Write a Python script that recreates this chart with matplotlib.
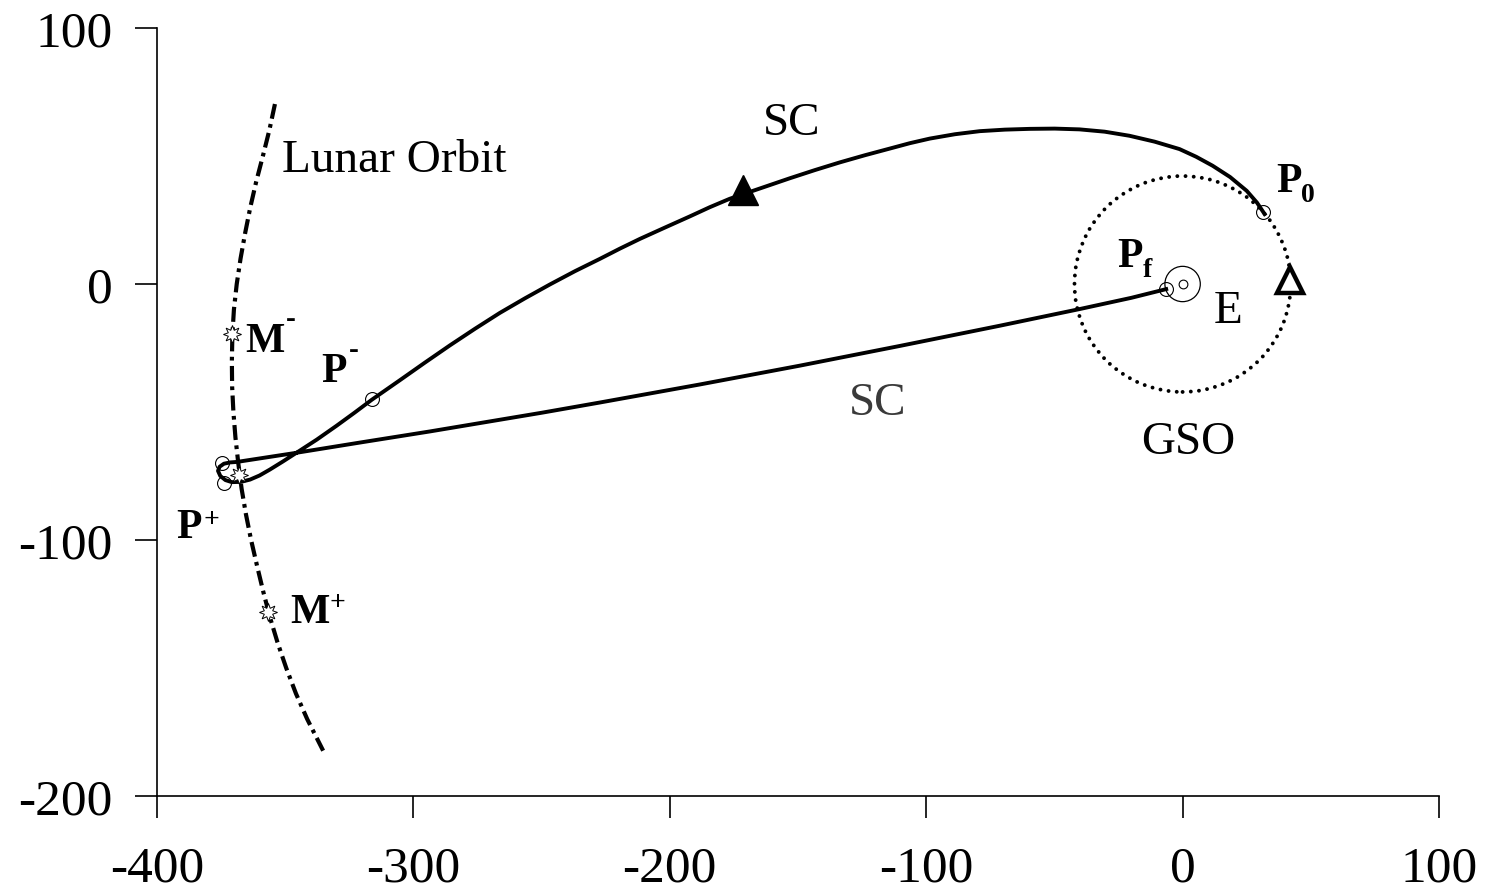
import matplotlib
matplotlib.use("Agg")
from matplotlib import pyplot as plt
from matplotlib.patches import Circle

plt.rcParams['font.family'] = ['Liberation Serif', 'DejaVu Serif']
plt.rcParams['axes.unicode_minus'] = False

# Spacecraft path, P0 -> lunar swing-by loop -> Pf (units: 1000 km)
sc_x = [32.0, 29.0, 25.0, 18.5, 11.7, 5.3, -1.2, -10.9, -20.7, -30.4,
        -40.2, -49.9, -59.6, -69.3, -79.1, -88.8, -98.6, -106.4, -114.2, -123.9,
        -133.7, -143.4, -153.2, -164.9, -176.6, -184.4, -192.2, -202.0, -211.7, -219.5,
        -227.3, -237.0, -246.8, -256.5, -266.3, -276.0, -285.8, -295.5, -305.3, -316.2,
        -323.0, -330.0, -337.7, -345.4, -351.0, -356.0, -360.0, -363.7, -367.3, -370.8,
        -373.3, -375.3, -376.2, -375.6, -373.9, -371.5, -368.8,
        -345.4, -320.0, -293.6, -250.0, -227.3, -188.3, -149.3, -110.3, -71.3, -40.2,
        -20.0, -6.4]
sc_y = [27.3, 31.8, 36.4, 41.8, 46.2, 49.7, 52.7, 55.6, 57.9, 59.5,
        60.4, 60.7, 60.6, 60.3, 59.7, 58.5, 56.8, 55.0, 52.9, 50.3,
        47.5, 44.5, 41.3, 37.3, 33.3, 30.0, 26.4, 22.0, 17.6, 13.8,
        9.8, 5.0, -0.2, -5.6, -11.3, -17.5, -24.0, -30.7, -37.6, -45.2,
        -50.3, -55.4, -60.8, -65.8, -69.4, -72.5, -74.8, -76.4, -77.3, -77.4,
        -76.6, -75.0, -73.0, -71.4, -70.2, -69.7, -69.5,
        -65.9, -61.8, -57.6, -50.3, -46.3, -39.25, -31.9, -24.2, -16.3, -9.8,
        -5.4, -2.0]

# Lunar orbit arc
moon_x = [-354.0, -356.2, -358.7, -361.3, -363.6, -365.6, -367.4, -368.9, -370.0,
          -370.6, -370.8, -370.7, -370.2, -369.4, -368.3, -367.0, -365.3, -363.3,
          -361.0, -358.6, -356.0, -353.0, -349.6, -345.8, -341.4, -335.2]
moon_y = [70.3, 60.0, 50.0, 40.0, 30.0, 20.0, 10.0, 0.0, -10.0,
          -20.0, -30.0, -40.0, -50.0, -60.0, -70.0, -80.0, -90.0, -100.0,
          -110.0, -120.0, -130.0, -140.0, -150.0, -160.0, -170.0, -182.3]

# Marked points
circ_x = [31.3, -6.4, -316.2, -374.7, -373.9]     # P0, Pf, P-, P+ loop
circ_y = [28.0, -2.0, -44.8, -69.9, -77.7]
star_x = [-370.6, -368.2, -356.6]                # M-, swing-by, M+
star_y = [-19.5, -74.8, -128.3]
tri_filled = (-171.3, 36.6)
tri_open = (42.0, 1.5)

GSO_R = 42.164
EARTH_R = 6.9

fig = plt.figure(figsize=(14.86, 8.95), dpi=100)
ax = fig.add_axes([0.10565, 0.1095, 0.86272, 0.8581])

ax.plot(moon_x, moon_y, color='black', lw=3.0, linestyle=(0, (3.6, 1.3, 0.9, 1.3)))
ax.add_patch(Circle((0, 0), GSO_R, fill=False, lw=2.8, edgecolor='black',
                    linestyle=(0, (0.01, 2.1)), capstyle='round'))
ax.add_patch(Circle((0, 0), EARTH_R, fill=False, lw=0.9, edgecolor='black'))
ax.plot([0], [0], 'o', ms=6.3, mfc='none', mec='black', mew=0.8)

ax.plot(sc_x, sc_y, color='black', lw=2.8, solid_joinstyle='round')

ax.plot(circ_x, circ_y, 'o', ms=10, mfc='none', mec='black', mew=0.8)
ax.plot(star_x, star_y, marker=(8, 1, 0), ls='none', ms=13, mfc='white', mec='black', mew=0.7)
ax.plot(*tri_filled, '^', ms=21, color='black')
ax.plot(*tri_open, '^', ms=19, mfc='white', mec='black', mew=3.2)

# labels
ax.text(-351.4, 44.3, 'Lunar Orbit', fontsize=34, ha='left', va='baseline')
ax.text(-152.6, 58.6, 'SC', fontsize=34, ha='center', va='baseline')
ax.text(-118.9, -50.8, 'SC', fontsize=34, ha='center', va='baseline', color='#3a3a3a')
ax.text(2.1, -66.0, 'GSO', fontsize=34, ha='center', va='baseline')
ax.text(17.9, -14.8, 'E', fontsize=34, ha='center', va='baseline')

bold = dict(fontweight='bold', va='baseline', ha='left')
ax.text(36.6, 36.4, 'P', fontsize=30, **bold)
ax.text(46.3, 32.5, '0', fontsize=20, **bold)
ax.text(-25.3, 7.1, 'P', fontsize=30, **bold)
ax.text(-15.6, 3.2, 'f', fontsize=20, **bold)
ax.text(-365.7, -26.0, 'M', fontsize=30, **bold)
ax.text(-349.8, -16.6, '-', fontsize=21, **bold)
ax.text(-336.0, -37.8, 'P', fontsize=30, **bold)
ax.text(-325.3, -28.6, '-', fontsize=21, **bold)
ax.text(-392.3, -98.9, 'P', fontsize=30, **bold)
ax.text(-381.8, -94.6, '+', fontsize=20, **bold)
ax.text(-348.1, -132.1, 'M', fontsize=30, **bold)
ax.text(-332.6, -127.0, '+', fontsize=20, **bold)

ax.set_xlim(-400, 100)
ax.set_ylim(-200, 100)
ax.set_xticks([-400, -300, -200, -100, 0, 100])
ax.set_yticks([-200, -100, 0, 100])
ax.spines['top'].set_visible(False)
ax.spines['right'].set_visible(False)
for s in ('left', 'bottom'):
    ax.spines[s].set_linewidth(1.2)
ax.tick_params(direction='out', length=16, width=1.2, labelsize=37)
ax.tick_params(axis='x', pad=19)
ax.tick_params(axis='y', pad=16)

plt.savefig('out.png', dpi=100)
